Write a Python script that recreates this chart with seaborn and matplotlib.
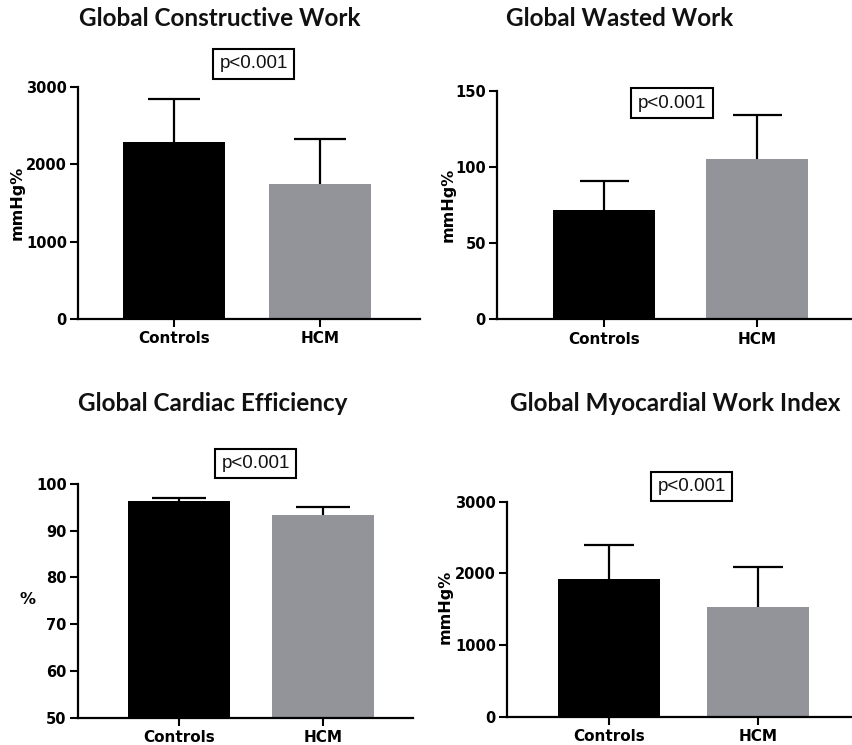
import matplotlib
matplotlib.use("Agg")
import matplotlib.pyplot as plt
import seaborn as sns
import pandas as pd

sns.set_theme(style="ticks")

W, H = 853, 745
DPI = 100

groups = ["Controls", "HCM"]
bar_colors = ["#000000", "#939499"]

titles = ["Global Constructive Work", "Global Wasted Work",
          "Global Cardiac Efficiency", "Global Myocardial Work Index"]
ylabels = ["mmHg%", "mmHg%", "%", "mmHg%"]
p_text = "p<0.001"

gcw_mean = [2290, 1740]
gcw_sd = [560, 585]
gww_mean = [72, 105]
gww_sd = [19, 29]
gce_mean = [96.4, 93.3]
gce_sd = [0.7, 1.7]
gwi_mean = [1926, 1527]
gwi_sd = [470, 558]

ylims = [(0, 3000), (0, 150), (50, 100), (0, 3000)]
yticks = [[0, 1000, 2000, 3000], [0, 50, 100, 150],
          [50, 60, 70, 80, 90, 100], [0, 1000, 2000, 3000]]

means = [gcw_mean, gww_mean, gce_mean, gwi_mean]
sds = [gcw_sd, gww_sd, gce_sd, gwi_sd]

# layout in pixels: axis left x, axis right x, y of baseline, y of top tick,
# x of the two category centres
layout = [
    dict(x0=78, x1=420, yb=319, yt=87, c0=174, c1=320),
    dict(x0=497, x1=852, yb=319.3, yt=90.7, c0=604.3, c1=756.7),
    dict(x0=77.7, x1=413, yb=717.7, yt=484, c0=179, c1=323),
    dict(x0=507, x1=853, yb=716.7, yt=501.7, c0=609, c1=758),
]
title_pos = [(220, 18), (620, 19), (213, 403), (675, 403)]
ylabel_pos = [(17.5, 203), (448, 205), (28, 600), (445, 607)]
pbox_pos = [(253.5, 64), (672, 103), (255.5, 463.5), (691.5, 486.5)]
cap_px = [52, 49, 54, 50]

fig = plt.figure(figsize=(W / DPI, H / DPI), dpi=DPI)
fig.patch.set_facecolor("white")

for i in range(4):
    L = layout[i]
    ax = fig.add_axes([L["x0"] / W, (H - L["yb"]) / H,
                       (L["x1"] - L["x0"]) / W, (L["yb"] - L["yt"]) / H])
    unit = L["c1"] - L["c0"]
    bar_w = 102 / unit
    df = pd.DataFrame({"group": groups, "value": means[i]})
    sns.barplot(data=df, x="group", y="value", hue="group",
                palette=bar_colors, width=bar_w, errorbar=None,
                legend=False, ax=ax, saturation=1, linewidth=0)
    # one-sided SD bars: mean up to mean + SD, cap on top only
    _, caps, _ = ax.errorbar([0, 1], means[i], yerr=[[0, 0], sds[i]],
                             fmt="none", ecolor="black", elinewidth=1.6,
                             capsize=cap_px[i] / 2 * 72 / DPI, capthick=1.6,
                             zorder=1)
    caps[0].set_visible(False)
    ax.set_xlim((L["x0"] - L["c0"]) / unit, (L["x1"] - L["c0"]) / unit)
    ax.set_ylim(*ylims[i])
    ax.set_yticks(yticks[i])
    for s in ["top", "right"]:
        ax.spines[s].set_visible(False)
    for s in ["left", "bottom"]:
        ax.spines[s].set_linewidth(1.6)
        ax.spines[s].set_color("black")
    ax.tick_params(axis="both", length=6, width=1.5, color="black",
                   labelcolor="black", pad=2)
    ax.tick_params(axis="x", pad=3)
    ax.set_xlabel("")
    ax.set_ylabel("")
    for lab in ax.get_yticklabels():
        lab.set(family="DejaVu Sans", weight="bold", size=10.5)
    for lab in ax.get_xticklabels():
        lab.set(family="DejaVu Sans", weight="bold", size=11)
    ax.patch.set_visible(False)
    for bar in ax.patches:
        bar.set_zorder(2)

    tx, ty = title_pos[i]
    fig.text(tx / W, 1 - ty / H, titles[i], ha="center", va="center",
             family="Lato", weight="bold", size=17.5, color="#111111")
    lx, ly = ylabel_pos[i]
    fig.text(lx / W, 1 - ly / H, ylabels[i], ha="center", va="center",
             rotation=0 if ylabels[i] == "%" else 90,
             family="DejaVu Sans", weight="bold", size=11.5, color="black")
    px, py = pbox_pos[i]
    fig.text(px / W, 1 - py / H, p_text, ha="center", va="center",
             family="Liberation Sans", size=13.5, color="#111111",
             bbox=dict(boxstyle="square,pad=0.34", facecolor="white",
                       edgecolor="black", linewidth=1.5))

fig.savefig("out.png", dpi=DPI, facecolor="white")
